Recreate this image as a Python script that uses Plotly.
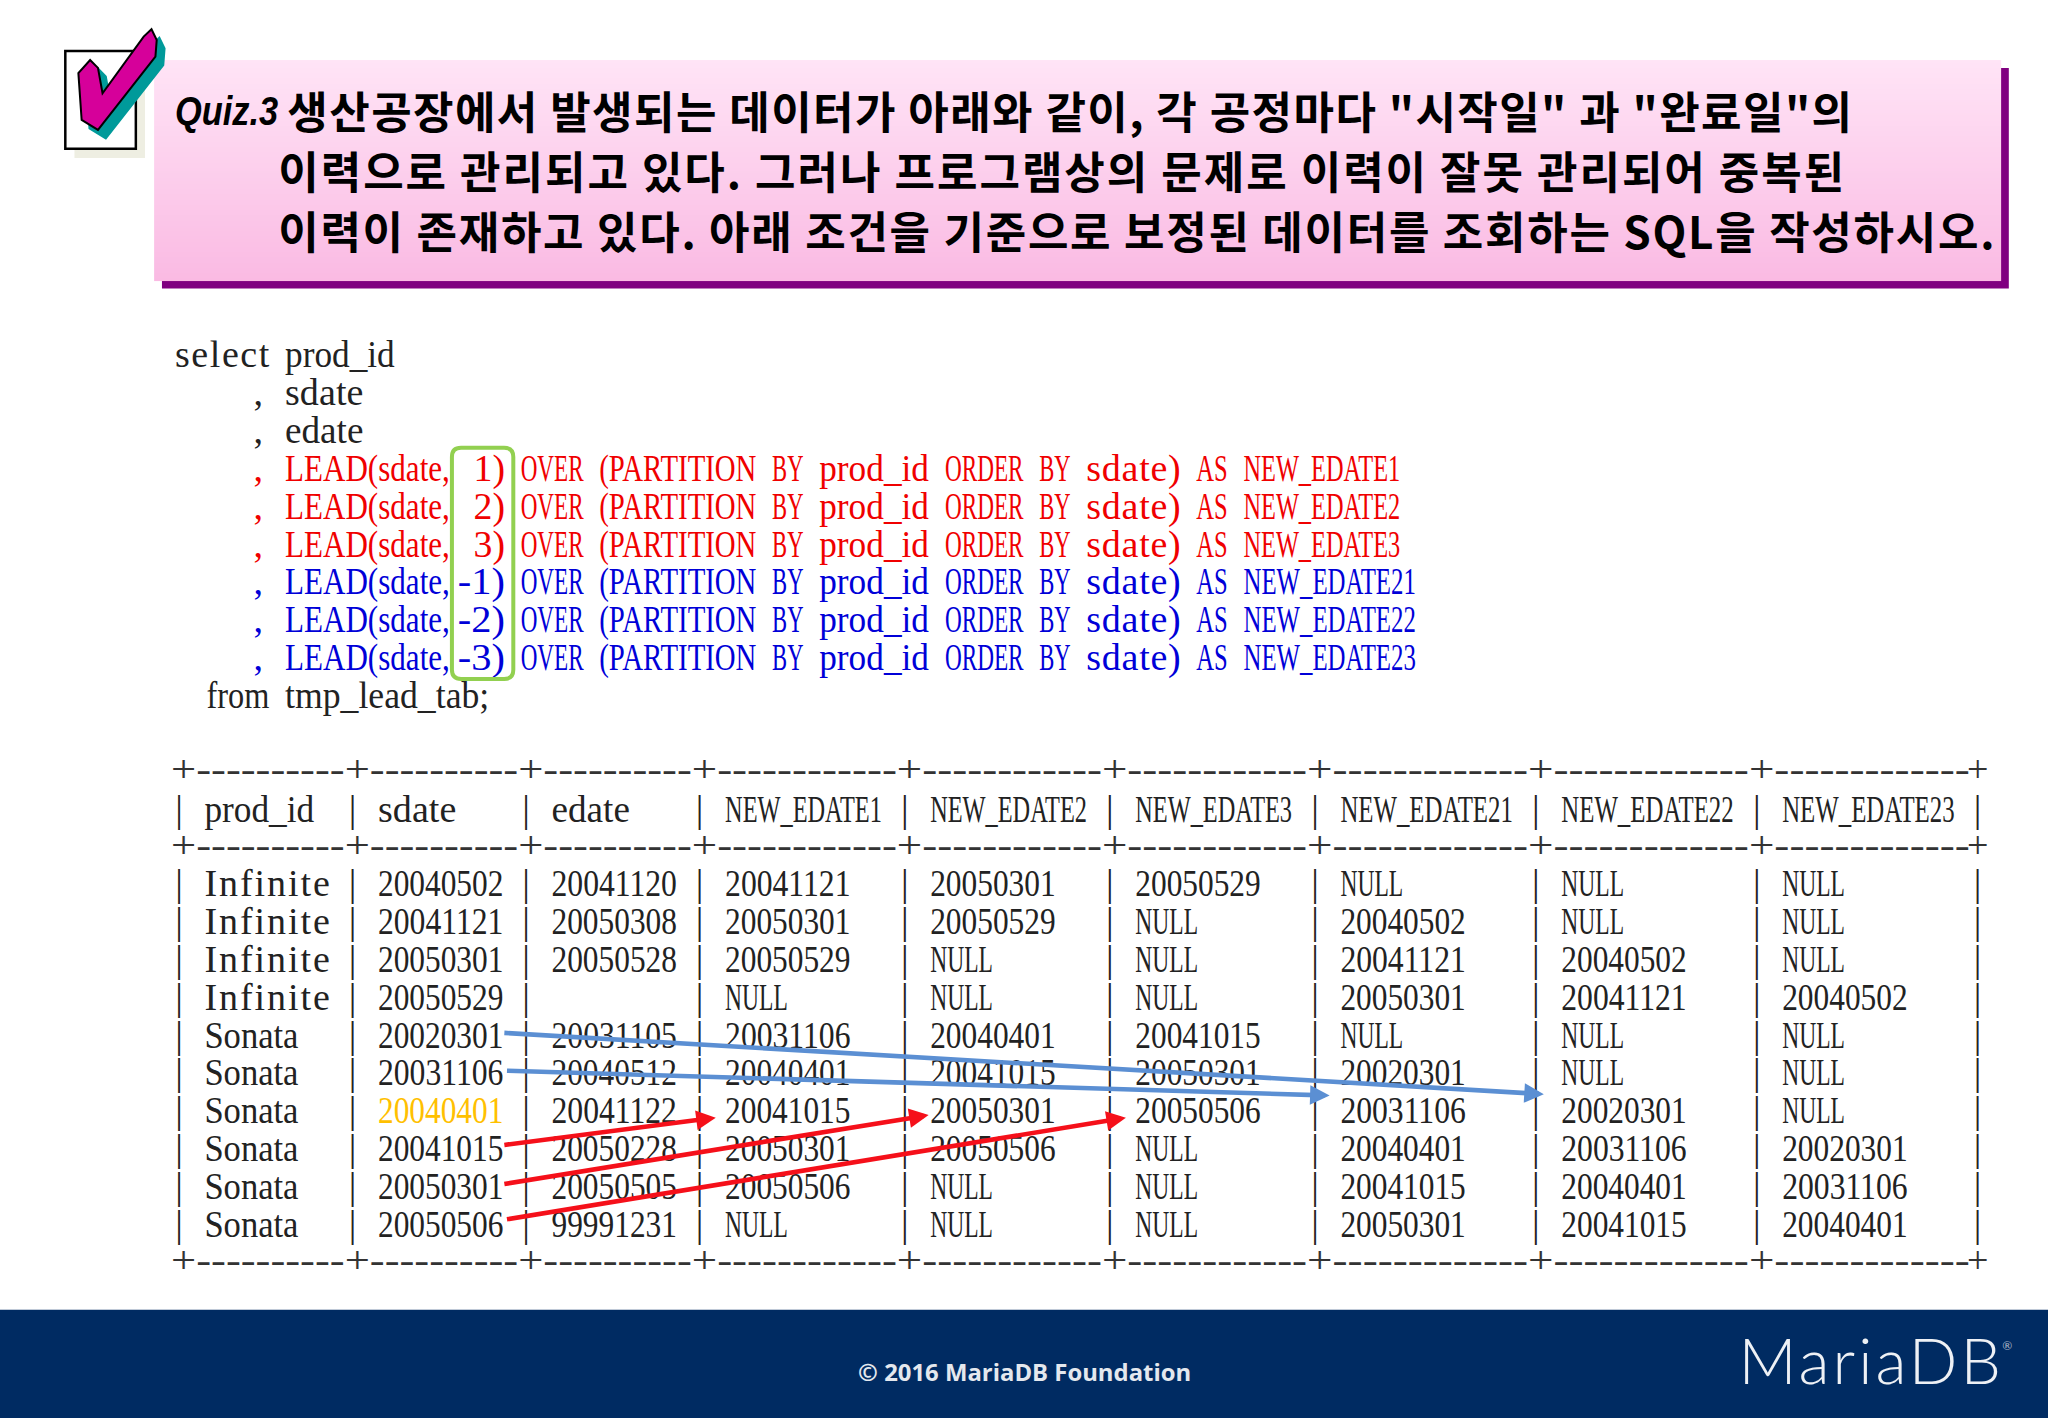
import json
import re
import plotly.graph_objects as go

# slide is laid out in a 1568x1086 space, scaled up to the 2048x1418 page
W, H = 1568, 1086
SCALE = 2048 / 1568

# title text
quiz_label = "Quiz.3"
title_lines = [
    '생산공장에서 발생되는 데이터가 아래와 같이, 각 공정마다 "시작일" 과 "완료일"의',
    "이력으로 관리되고 있다. 그러나 프로그램상의 문제로 이력이 잘못 관리되어 중복된",
    "이력이 존재하고 있다. 아래 조건을 기준으로 보정된 데이터를 조회하는 SQL을 작성하시오.",
]

# sql text
code_lines = [
    "select prod_id",
    "     , sdate",
    "     , edate",
    "     , LEAD(sdate, 1) OVER (PARTITION BY prod_id ORDER BY sdate) AS NEW_EDATE1",
    "     , LEAD(sdate, 2) OVER (PARTITION BY prod_id ORDER BY sdate) AS NEW_EDATE2",
    "     , LEAD(sdate, 3) OVER (PARTITION BY prod_id ORDER BY sdate) AS NEW_EDATE3",
    "     , LEAD(sdate,-1) OVER (PARTITION BY prod_id ORDER BY sdate) AS NEW_EDATE21",
    "     , LEAD(sdate,-2) OVER (PARTITION BY prod_id ORDER BY sdate) AS NEW_EDATE22",
    "     , LEAD(sdate,-3) OVER (PARTITION BY prod_id ORDER BY sdate) AS NEW_EDATE23",
    "  from tmp_lead_tab;",
]
code_colors = ["#222222"] * 3 + ["#F00000"] * 3 + ["#0000D8"] * 3 + ["#222222"]

# result table
headers = ["prod_id", "sdate", "edate", "NEW_EDATE1", "NEW_EDATE2", "NEW_EDATE3",
           "NEW_EDATE21", "NEW_EDATE22", "NEW_EDATE23"]
col_chars = [11, 11, 11, 13, 13, 13, 14, 14, 14]
prod_id = ["Infinite"] * 4 + ["Sonata"] * 6
sdate = ["20040502", "20041121", "20050301", "20050529", "20020301",
         "20031106", "20040401", "20041015", "20050301", "20050506"]
edate = ["20041120", "20050308", "20050528", "", "20031105",
         "20040512", "20041122", "20050228", "20050505", "99991231"]
new_edate1 = ["20041121", "20050301", "20050529", "NULL", "20031106",
              "20040401", "20041015", "20050301", "20050506", "NULL"]
new_edate2 = ["20050301", "20050529", "NULL", "NULL", "20040401",
              "20041015", "20050301", "20050506", "NULL", "NULL"]
new_edate3 = ["20050529", "NULL", "NULL", "NULL", "20041015",
              "20050301", "20050506", "NULL", "NULL", "NULL"]
new_edate21 = ["NULL", "20040502", "20041121", "20050301", "NULL",
               "20020301", "20031106", "20040401", "20041015", "20050301"]
new_edate22 = ["NULL", "NULL", "20040502", "20041121", "NULL",
               "NULL", "20020301", "20031106", "20040401", "20041015"]
new_edate23 = ["NULL", "NULL", "NULL", "20040502", "NULL",
               "NULL", "NULL", "20020301", "20031106", "20040401"]
columns = [prod_id, sdate, edate, new_edate1, new_edate2, new_edate3,
           new_edate21, new_edate22, new_edate23]

footer_text = "© 2016 MariaDB Foundation"
logo_text = "MariaDB"

# layout numbers
CODE_X, CODE_Y, CODE_PITCH, CODE_CH = 134, 274, 29, 12.03
TABLE_X, TABLE_CH = 137, 12.08
HEADER_Y, ROW_Y, ROW_PITCH = 622, 679, 29
RULE_YS = [592, 650, 968]
MONO = "Liberation Serif"
MONO_SIZE = 38

fig = go.Figure()
stretch = {}  # text -> width on the page, applied once the page is drawn


def add_text(xs, ys, texts, colors, size=MONO_SIZE, family=MONO, pos="middle right", weight=None, style=None):
    font = dict(family=family, size=size, color=colors)
    if weight:
        font["weight"] = weight
    if style:
        font["style"] = style
    fig.add_trace(go.Scatter(x=xs, y=ys, text=texts, mode="text", textposition=pos,
                             textfont=font, hoverinfo="skip", showlegend=False))


shapes = []


def add_rect(x0, y0, x1, y1, fill, line=None, width=0):
    shapes.append(dict(type="rect", x0=x0, y0=y0, x1=x1, y1=y1, fillcolor=fill, layer="below",
                       line=dict(color=line or fill, width=width)))


# title band: purple shadow then a pink gradient
add_rect(124, 52, 1538, 221, "#800080")
STEPS = 84
fig.add_trace(go.Heatmap(
    x=[118, 1532],
    y=[46 + (215 - 46) * s / STEPS for s in range(STEPS + 1)],
    z=[[s] for s in range(STEPS)],
    colorscale=[[0, "rgb(255,228,246)"], [1, "rgb(250,186,227)"]],
    showscale=False, hoverinfo="skip",
))

# check box and tick
add_rect(57, 46, 111, 121, "#EEEEE2")
add_rect(50, 39, 104, 114, "white", "black", 2.5)
tick = [(116, 22.4), (120, 30.6), (119, 43.4), (75, 99.5), (62.5, 91.8), (60, 56),
        (69, 46), (75, 52), (78.5, 71.4), (110, 28)]
for dx, dy, fill, line in [(6, 6.5, "#009A9A", "#009A9A"), (0, 0, "#D6009A", "black")]:
    path = "M " + " L ".join("%s,%s" % (x + dx, y + dy) for x, y in tick) + " Z"
    shapes.append(dict(type="path", path=path, fillcolor=fill, line=dict(color=line, width=2)))

# footer
add_rect(0, 1003, W, H, "#002B62")

# title text
add_text([134], [88], [quiz_label], "black", size=40, family="Liberation Sans", weight=700, style="italic")
add_text([220, 213, 213], [90, 136, 182], title_lines, "black", size=44,
         family="Noto Sans CJK KR", weight=700)
stretch[quiz_label] = (213 - 134) * SCALE
for line, x0, x1 in zip(title_lines, [220, 213, 213], [1418, 1412, 1527]):
    stretch[line] = (x1 - x0) * SCALE

# sql, word by word so each word sits on its character cell
xs, ys, words, colors = [], [], [], []
for i, line in enumerate(code_lines):
    for m in re.finditer(r"\S+?,|\S+", line):
        word = m.group()
        xs.append(CODE_X + m.start() * CODE_CH)
        ys.append(CODE_Y + i * CODE_PITCH)
        words.append(word)
        colors.append(code_colors[i])
        stretch[word] = len(word) * CODE_CH * SCALE - (8 if word.endswith(",") and len(word) > 1 else 0)
add_text(xs, ys, words, colors)

# green box around the offsets
shapes.append(dict(type="path", line=dict(color="#92D050", width=4),
                   path="M 353,343 L 386,343 Q 393,343 393,350 L 393,513 Q 393,520 386,520 "
                        "L 353,520 Q 346,520 346,513 L 346,350 Q 346,343 353,343 Z"))

# table rules and bars
bars = [TABLE_X]
for n in col_chars:
    bars.append(bars[-1] + n * TABLE_CH)
rule_x, rule_y, rule_text = [], [], []
for y in RULE_YS:
    for b, n in zip(bars, col_chars):
        seg = "+" + "-" * (n - 1)
        rule_x.append(b - 6)
        rule_y.append(y)
        rule_text.append(seg)
        stretch[seg] = n * TABLE_CH * SCALE
add_text(rule_x, rule_y, rule_text, "#333333")
add_text([bars[-1]] * 3, RULE_YS, ["+"] * 3, "#333333", pos="middle center")

bar_ys = [HEADER_Y] + [ROW_Y + r * ROW_PITCH for r in range(len(prod_id))]
for b in bars:
    add_text([b] * len(bar_ys), bar_ys, ["|"] * len(bar_ys), "#222222", pos="middle center")

# table text
for c, values in enumerate(columns):
    x = bars[c] + 19.5
    add_text([x], [HEADER_Y], [headers[c]], "#222222")
    stretch[headers[c]] = len(headers[c]) * 12 * SCALE
    row_colors = ["#FFC000" if values is sdate and v == "20040401" else "#222222" for v in values]
    add_text([x] * len(values), [ROW_Y + r * ROW_PITCH for r in range(len(values))], values, row_colors)
    for v in values:
        if v:
            stretch[v] = len(v) * 12 * SCALE

# footer text
add_text([657], [1053], [footer_text], "#E4E8EE", size=24, family="Open Sans", weight=700)
stretch[footer_text] = (912 - 657) * SCALE
add_text([1331], [1048], [logo_text], "#EEF1F5", size=64, family="Lato", weight=300)
stretch[logo_text] = (1532 - 1331) * SCALE
add_text([1533], [1032], ["®"], "#AEB8C8", size=12, family="Lato")

# arrows from sdate to the shifted columns
arrows = [
    (385, 791, 1182, 838, "#5B8FD3"),
    (387, 820, 1018, 839, "#5B8FD3"),
    (385, 877, 548, 856, "#F5101A"),
    (385, 907, 711, 854, "#F5101A"),
    (387, 934, 862, 856, "#F5101A"),
]
for x0, y0, x1, y1, color in arrows:
    fig.add_annotation(x=x1, y=y1, ax=x0, ay=y0, xref="x", yref="y", axref="x", ayref="y",
                       text="", showarrow=True, arrowhead=2, arrowsize=0.85, arrowwidth=4.6,
                       arrowcolor=color, standoff=0, startstandoff=0)

fig.update_layout(
    width=2048, height=1418, margin=dict(l=0, r=0, t=0, b=0),
    paper_bgcolor="white", plot_bgcolor="white", shapes=shapes, showlegend=False,
    xaxis=dict(visible=False, range=[0, W], fixedrange=True),
    yaxis=dict(visible=False, range=[H, 0], fixedrange=True),
)

# fit the text to the slide's fixed-pitch cells: narrow words get letter spacing,
# wide words get squeezed, the rules stretch so their dashes stay joined
post = """
document.body.style.margin = '0';
var widths = %s;
document.querySelectorAll('.textpoint text').forEach(function (t) {
    var s = t.textContent, w = widths[s];
    if (w) {
        var loose = t.getComputedTextLength() < w && s.indexOf('-') < 0;
        t.setAttribute('textLength', w);
        t.setAttribute('lengthAdjust', loose ? 'spacing' : 'spacingAndGlyphs');
    }
});
""" % json.dumps(stretch, ensure_ascii=False)

fig.write_html("out.html", post_script=post, config={"displayModeBar": False})
